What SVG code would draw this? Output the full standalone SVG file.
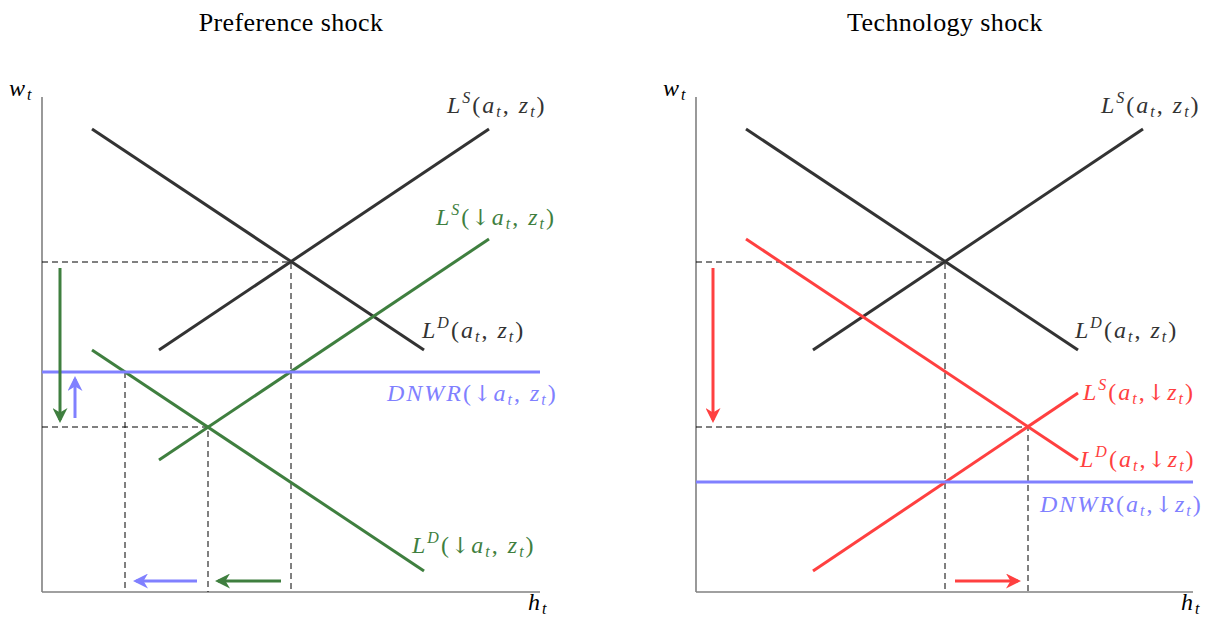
<svg xmlns="http://www.w3.org/2000/svg" width="1213" height="619" viewBox="0 0 1213 619">
<defs>
<style>
.axis{stroke:#808080;stroke-width:1.6;fill:none}
.dash{stroke:#000;stroke-width:1;stroke-dasharray:6,4;fill:none}
.k{stroke:#333;stroke-width:3;fill:none}
.g{stroke:#3f7f3f;stroke-width:3;fill:none}
.b{stroke:#8080ff;stroke-width:3;fill:none}
.r{stroke:#ff4040;stroke-width:3;fill:none}
text{font-family:"Liberation Serif","DejaVu Serif",serif;font-size:24px;letter-spacing:2px}
.t{font-size:26px;letter-spacing:0.4px;fill:#000;text-anchor:middle}
.i{font-style:italic}
.s{font-size:16px}
.ar{font-family:"DejaVu Serif",serif;font-size:22px}
.tk{fill:#333}.tg{fill:#3f7f3f}.tb{fill:#8080ff}.tr{fill:#ff4040}
</style>
<marker id="ag" viewBox="0 0 10 10" refX="8" refY="5" markerWidth="5" markerHeight="5" orient="auto" markerUnits="strokeWidth"><path d="M0,0 L10,5 L0,10 L3,5 Z" fill="#3f7f3f"/></marker>
<marker id="ab" viewBox="0 0 10 10" refX="8" refY="5" markerWidth="5" markerHeight="5" orient="auto" markerUnits="strokeWidth"><path d="M0,0 L10,5 L0,10 L3,5 Z" fill="#8080ff"/></marker>
<marker id="ar" viewBox="0 0 10 10" refX="8" refY="5" markerWidth="5" markerHeight="5" orient="auto" markerUnits="strokeWidth"><path d="M0,0 L10,5 L0,10 L3,5 Z" fill="#ff4040"/></marker>
</defs>
<rect width="1213" height="619" fill="#fff"/>

<g id="left-panel">
<text class="t" x="291" y="31">Preference shock</text>
<g id="left-axes">
<line class="axis" x1="42" y1="97" x2="42" y2="592"/>
<line class="axis" x1="42" y1="592" x2="540" y2="592"/>
<text x="9" y="96"><tspan class="i">w</tspan><tspan class="s i" dy="4">t</tspan></text>
<text x="528" y="610"><tspan class="i">h</tspan><tspan class="s i" dy="4">t</tspan></text>
</g>
<g id="left-guides">
<polyline class="dash" points="42,262 291,262 291,592"/>
<polyline class="dash" points="42,427 208,427 208,592"/>
<line class="dash" x1="125" y1="372" x2="125" y2="592"/>
</g>
<g id="left-LS"><line class="k" x1="159" y1="350" x2="489" y2="129"/>
<text class="tk" x="447" y="113"><tspan class="i">L</tspan><tspan class="s i" dy="-10">S</tspan><tspan dy="10">(</tspan><tspan class="i">a</tspan><tspan class="s i" dy="4">t</tspan><tspan dy="-4">, </tspan><tspan class="i">z</tspan><tspan class="s i" dy="4">t</tspan><tspan dy="-4">)</tspan></text></g>
<g id="left-LD"><line class="k" x1="92" y1="129" x2="424" y2="350"/>
<text class="tk" x="422" y="338"><tspan class="i">L</tspan><tspan class="s i" dy="-10">D</tspan><tspan dy="10">(</tspan><tspan class="i">a</tspan><tspan class="s i" dy="4">t</tspan><tspan dy="-4">, </tspan><tspan class="i">z</tspan><tspan class="s i" dy="4">t</tspan><tspan dy="-4">)</tspan></text></g>
<g id="left-LS-new"><line class="g" x1="159" y1="460" x2="489" y2="239"/>
<text class="tg" x="436" y="225"><tspan class="i">L</tspan><tspan class="s i" dy="-10">S</tspan><tspan dy="10">(</tspan><tspan class="ar">↓</tspan><tspan class="i">a</tspan><tspan class="s i" dy="4">t</tspan><tspan dy="-4">, </tspan><tspan class="i">z</tspan><tspan class="s i" dy="4">t</tspan><tspan dy="-4">)</tspan></text></g>
<g id="left-LD-new"><line class="g" x1="92" y1="350" x2="424" y2="571"/>
<text class="tg" x="412" y="553"><tspan class="i">L</tspan><tspan class="s i" dy="-10">D</tspan><tspan dy="10">(</tspan><tspan class="ar">↓</tspan><tspan class="i">a</tspan><tspan class="s i" dy="4">t</tspan><tspan dy="-4">, </tspan><tspan class="i">z</tspan><tspan class="s i" dy="4">t</tspan><tspan dy="-4">)</tspan></text></g>
<g id="left-DNWR"><line class="b" x1="42" y1="372" x2="540" y2="372"/>
<text class="tb" x="387" y="401"><tspan class="i">DNWR</tspan><tspan>(</tspan><tspan class="ar">↓</tspan><tspan class="i">a</tspan><tspan class="s i" dy="4">t</tspan><tspan dy="-4">, </tspan><tspan class="i">z</tspan><tspan class="s i" dy="4">t</tspan><tspan dy="-4">)</tspan></text></g>
</g>

<g id="right-panel">
<text class="t" x="945" y="31">Technology shock</text>
<g id="right-axes">
<line class="axis" x1="696" y1="97" x2="696" y2="592"/>
<line class="axis" x1="696" y1="592" x2="1193" y2="592"/>
<text x="663" y="96"><tspan class="i">w</tspan><tspan class="s i" dy="4">t</tspan></text>
<text x="1181" y="610"><tspan class="i">h</tspan><tspan class="s i" dy="4">t</tspan></text>
</g>
<g id="right-guides">
<polyline class="dash" points="696,262 945,262 945,592"/>
<polyline class="dash" points="696,427 1028,427 1028,592"/>
</g>
<g id="right-LS"><line class="k" x1="813" y1="350" x2="1143" y2="129"/>
<text class="tk" x="1101" y="113"><tspan class="i">L</tspan><tspan class="s i" dy="-10">S</tspan><tspan dy="10">(</tspan><tspan class="i">a</tspan><tspan class="s i" dy="4">t</tspan><tspan dy="-4">, </tspan><tspan class="i">z</tspan><tspan class="s i" dy="4">t</tspan><tspan dy="-4">)</tspan></text></g>
<g id="right-LD"><line class="k" x1="746" y1="129" x2="1078" y2="350"/>
<text class="tk" x="1075" y="338"><tspan class="i">L</tspan><tspan class="s i" dy="-10">D</tspan><tspan dy="10">(</tspan><tspan class="i">a</tspan><tspan class="s i" dy="4">t</tspan><tspan dy="-4">, </tspan><tspan class="i">z</tspan><tspan class="s i" dy="4">t</tspan><tspan dy="-4">)</tspan></text></g>
<g id="right-LS-new"><line class="r" x1="813" y1="571" x2="1078" y2="393"/>
<text class="tr" x="1083" y="400"><tspan class="i">L</tspan><tspan class="s i" dy="-10">S</tspan><tspan dy="10">(</tspan><tspan class="i">a</tspan><tspan class="s i" dy="4">t</tspan><tspan dy="-4">,</tspan><tspan class="ar">↓</tspan><tspan class="i">z</tspan><tspan class="s i" dy="4">t</tspan><tspan dy="-4">)</tspan></text></g>
<g id="right-LD-new"><line class="r" x1="746" y1="239" x2="1078" y2="460"/>
<text class="tr" x="1080" y="467"><tspan class="i">L</tspan><tspan class="s i" dy="-10">D</tspan><tspan dy="10">(</tspan><tspan class="i">a</tspan><tspan class="s i" dy="4">t</tspan><tspan dy="-4">,</tspan><tspan class="ar">↓</tspan><tspan class="i">z</tspan><tspan class="s i" dy="4">t</tspan><tspan dy="-4">)</tspan></text></g>
<g id="right-DNWR"><line class="b" x1="696" y1="482" x2="1193" y2="482"/>
<text class="tb" x="1040" y="512"><tspan class="i">DNWR</tspan><tspan>(</tspan><tspan class="i">a</tspan><tspan class="s i" dy="4">t</tspan><tspan dy="-4">,</tspan><tspan class="ar">↓</tspan><tspan class="i">z</tspan><tspan class="s i" dy="4">t</tspan><tspan dy="-4">)</tspan></text></g>
</g>

<g id="connectors">
<line class="g" x1="60" y1="268" x2="60" y2="420" marker-end="url(#ag)"/>
<line class="b" x1="75" y1="418" x2="75" y2="379" marker-end="url(#ab)"/>
<line class="g" x1="281" y1="581" x2="218" y2="581" marker-end="url(#ag)"/>
<line class="b" x1="197" y1="581" x2="136" y2="581" marker-end="url(#ab)"/>
<line class="r" x1="713" y1="268" x2="713" y2="420" marker-end="url(#ar)"/>
<line class="r" x1="955" y1="581" x2="1018" y2="581" marker-end="url(#ar)"/>
</g>
</svg>
